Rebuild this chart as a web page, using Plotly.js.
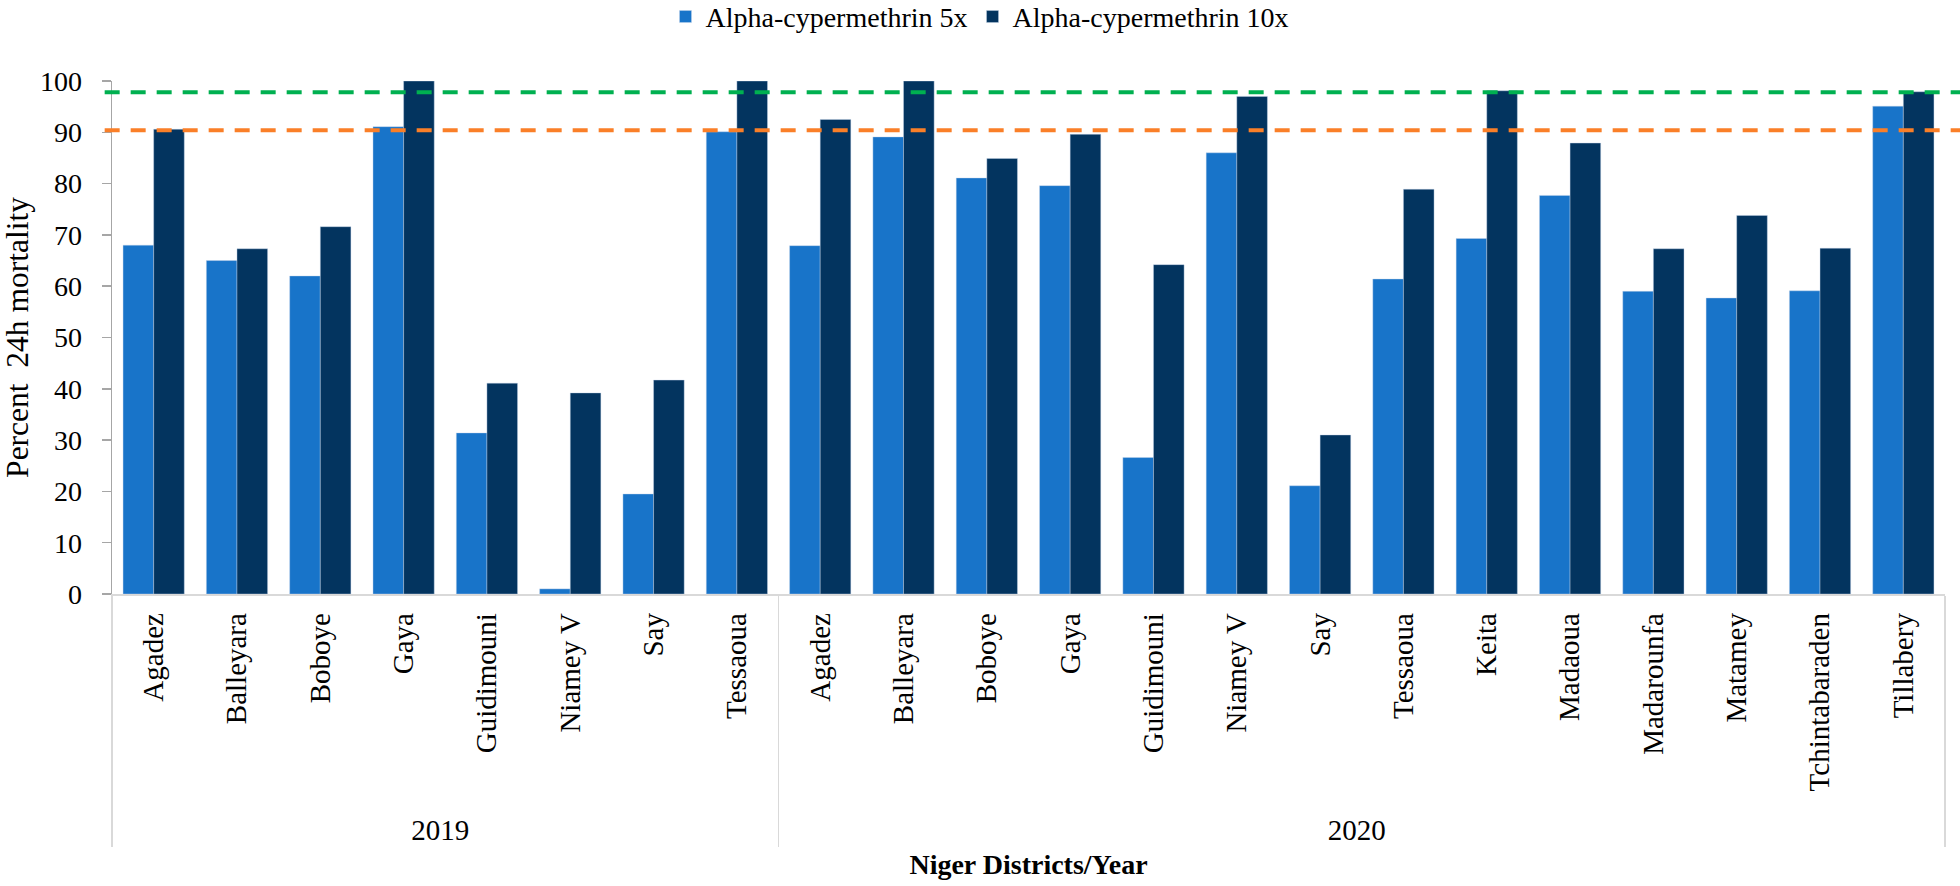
<!DOCTYPE html>
<html>
<head>
<meta charset="utf-8">
<script src="https://cdn.plot.ly/plotly-3.0.1.min.js"></script>
<style>html,body{margin:0;padding:0;background:#fff;}#chart{width:1960px;height:886px;}</style>
</head>
<body>
<div id="chart"></div>
<script>
const years = ['2019','2019','2019','2019','2019','2019','2019','2019',
  '2020','2020','2020','2020','2020','2020','2020','2020','2020','2020','2020','2020','2020','2020'];
const districts = ['Agadez','Balleyara','Boboye','Gaya','Guidimouni','Niamey V','Say','Tessaoua',
  'Agadez','Balleyara','Boboye','Gaya','Guidimouni','Niamey V','Say','Tessaoua','Keita','Madaoua','Madarounfa','Matamey','Tchintabaraden','Tillabery'];
const alpha5x = [68, 65, 62, 91.1, 31.4, 1, 19.5, 90.1,
  67.9, 89.1, 81.1, 79.6, 26.6, 86, 21.1, 61.4, 69.3, 77.7, 59, 57.7, 59.1, 95.1];
const alpha10x = [90.6, 67.3, 71.6, 100, 41.1, 39.2, 41.7, 100,
  92.5, 100, 84.9, 89.6, 64.2, 97, 31, 78.9, 98.1, 87.9, 67.3, 73.8, 67.4, 97.9];
const seriesNames = ['Alpha-cypermethrin 5x', 'Alpha-cypermethrin 10x'];
const thresholdGreen = 97.8;
const thresholdOrange = 90.4;

const FONT = '"Liberation Serif", "Times New Roman", serif';
const traces = [
  {type:'bar', name: seriesNames[0], x:[years, districts], y: alpha5x,
   marker:{color:'#1874C9', line:{color:'rgba(200,215,235,0.7)', width:0.6}}},
  {type:'bar', name: seriesNames[1], x:[years, districts], y: alpha10x,
   marker:{color:'#03345F', line:{color:'rgba(200,215,235,0.7)', width:0.6}}}
];

const layout = {
  width:1960, height:886,
  paper_bgcolor:'#fff', plot_bgcolor:'#fff',
  font:{family:FONT, color:'#000', size:28},
  margin:{l:112, r:15, t:81, b:292},
  barmode:'group', bargap:0.265, bargroupgap:0,
  showlegend:true,
  legend:{orientation:'h', xref:'container', yref:'container', x:0.5, xanchor:'center', y:0.981, yanchor:'middle',
          font:{family:FONT, size:28, color:'#000'}, itemwidth:30, tracegroupgap:0},
  xaxis:{type:'multicategory', showline:true, linecolor:'#d9d9d9', linewidth:1.5,
         ticks:'', tickangle:-90, tickfont:{family:FONT, size:29, color:'#000'},
         ticklabelstandoff:6,
         showdividers:true, dividercolor:'#d9d9d9', dividerwidth:1.5,
         showgrid:false, zeroline:false,
         title:{text:'<b>Niger Districts/Year</b>', font:{family:FONT, size:28, color:'#000'}, standoff:9}},
  yaxis:{range:[0,100], dtick:10, tick0:0, showline:true, linecolor:'#a6a6a6', linewidth:1.5,
         ticks:'outside', ticklen:9, tickcolor:'#a6a6a6', tickwidth:1.5,
         tickfont:{family:FONT, size:28, color:'#000'}, ticklabelstandoff:14,
         showgrid:false, zeroline:false,
         title:{text:'Percent  24h mortality', font:{family:FONT, size:31.5, color:'#000'}, standoff:9}},
  shapes:[
    {type:'line', xref:'paper', yref:'y', x0:-0.004, x1:1.01, y0:thresholdGreen, y1:thresholdGreen,
     line:{color:'#00B050', width:4, dash:'15px,11px'}},
    {type:'line', xref:'paper', yref:'y', x0:-0.004, x1:1.01, y0:thresholdOrange, y1:thresholdOrange,
     line:{color:'#FA7F28', width:4, dash:'15px,11px'}}
  ]
};

Plotly.newPlot('chart', traces, layout, {displayModeBar:false, staticPlot:true});
</script>
</body>
</html>
